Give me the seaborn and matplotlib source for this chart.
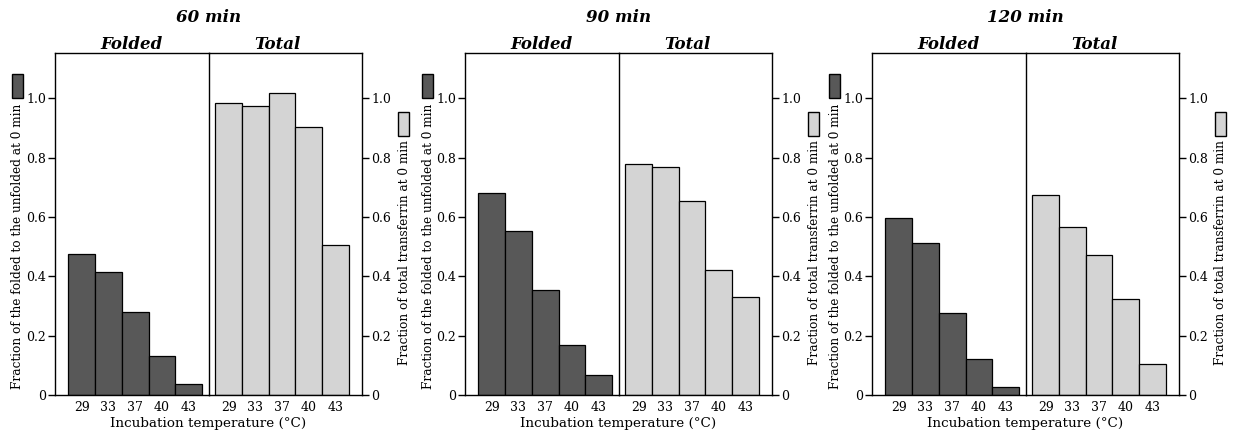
import pandas as pd
import seaborn as sns
import matplotlib.pyplot as plt
from matplotlib.patches import Rectangle

# incubation temperatures (°C) and the three incubation times
temps = [29, 33, 37, 40, 43]
times = ["60 min", "90 min", "120 min"]

# fraction of folded to unfolded at 0 min
folded_60 = [0.477, 0.414, 0.280, 0.131, 0.038]
folded_90 = [0.680, 0.554, 0.355, 0.168, 0.068]
folded_120 = [0.598, 0.511, 0.278, 0.120, 0.028]

# fraction of total transferrin at 0 min
total_60 = [0.986, 0.973, 1.017, 0.903, 0.505]
total_90 = [0.779, 0.769, 0.653, 0.420, 0.331]
total_120 = [0.674, 0.567, 0.473, 0.322, 0.104]

yticks = [0, 0.2, 0.4, 0.6, 0.8, 1.0]
ytick_labels = ["0", "0.2", "0.4", "0.6", "0.8", "1.0"]

dark = "#585858"
light = "#d4d4d4"

sns.set_theme(style="ticks")
plt.rcParams["font.family"] = ["DejaVu Serif"]
plt.rcParams["axes.edgecolor"] = "black"
plt.rcParams["axes.linewidth"] = 1.0
plt.rcParams["text.color"] = "black"
plt.rcParams["xtick.color"] = "black"
plt.rcParams["ytick.color"] = "black"

W, H = 1235, 434
fig = plt.figure(figsize=(W / 100, H / 100), dpi=100)

# layout in pixels
panel_left = [55, 465, 872]
half = 153.5
top, bottom = 53, 395

folded_all = [folded_60, folded_90, folded_120]
total_all = [total_60, total_90, total_120]


def style_axis(ax, side):
    ax.set_ylim(0, 1.153)
    ax.set_yticks(yticks)
    ax.set_yticklabels(ytick_labels)
    ax.tick_params(axis="x", length=0, labelsize=9, pad=4)
    ax.tick_params(axis="y", direction="out", length=5, width=1, labelsize=9, pad=1.5)
    if side == "right":
        ax.yaxis.tick_right()
        ax.spines["left"].set_visible(False)
        ax.patch.set_alpha(0)
    ax.set_xlabel("")
    ax.set_ylabel("")


for i, t in enumerate(times):
    l = panel_left[i]
    mid = l + half
    r = l + 2 * half
    y0 = 1 - bottom / H
    h = (bottom - top) / H

    axL = fig.add_axes([l / W, y0, half / W, h])
    axR = fig.add_axes([mid / W, y0, half / W, h])

    dfL = pd.DataFrame({"temp": temps, "value": folded_all[i]})
    dfR = pd.DataFrame({"temp": temps, "value": total_all[i]})

    sns.barplot(data=dfL, x="temp", y="value", ax=axL, color=dark, saturation=1,
                edgecolor="black", linewidth=0.9, width=1, errorbar=None)
    sns.barplot(data=dfR, x="temp", y="value", ax=axR, color=light, saturation=1,
                edgecolor="black", linewidth=0.9, width=1, errorbar=None)

    axL.set_xlim(-1.0, 4.74)
    axR.set_xlim(-0.76, 5.0)
    style_axis(axL, "left")
    style_axis(axR, "right")

    axL.set_title("Folded", fontsize=12, fontweight="bold", fontstyle="italic", pad=2)
    axR.set_title("Total", x=0.45, fontsize=12, fontweight="bold", fontstyle="italic", pad=2)

    fig.text(mid / W, 1 - 17 / H, t, ha="center", va="center",
             fontsize=12, fontweight="bold", fontstyle="italic")
    fig.text(mid / W, 1 - 423 / H, "Incubation temperature (°C)", ha="center",
             va="center", fontsize=9.7)

    # y labels with a small swatch above each
    fig.text((l - 37) / W, 1 - 104 / H, "Fraction of the folded to the unfolded at 0 min",
             rotation=90, ha="center", va="top", fontsize=8.7)
    fig.patches.append(Rectangle(((l - 43) / W, 1 - 98 / H), 11 / W, 24 / H,
                                 transform=fig.transFigure, facecolor=dark,
                                 edgecolor="black", linewidth=1))
    fig.text((r + 42) / W, 1 - 140 / H, "Fraction of total transferrin at 0 min",
             rotation=90, ha="center", va="top", fontsize=8.7)
    fig.patches.append(Rectangle(((r + 36) / W, 1 - 136 / H), 11 / W, 24 / H,
                                 transform=fig.transFigure, facecolor=light,
                                 edgecolor="black", linewidth=1))

fig.savefig("out.png", dpi=100)
